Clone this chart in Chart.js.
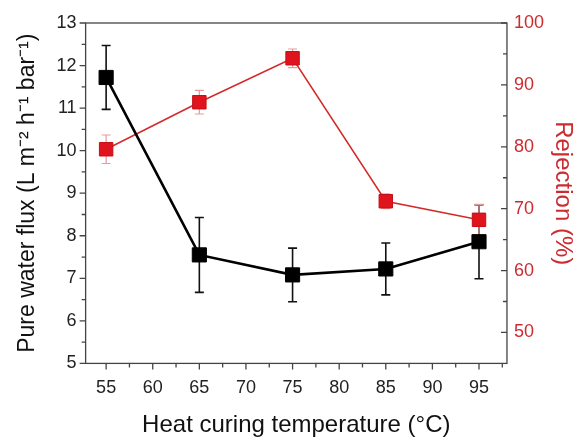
<!DOCTYPE html>
<html lang="en">
  <head>
    <meta charset="UTF-8" />
    <title>Flux and rejection vs heat curing temperature</title>
    <script src="https://cdn.jsdelivr.net/npm/chart.js@4.4.0/dist/chart.umd.min.js"></script>
    <style>
      body { margin: 0; background: #fff; }
    </style>
  </head>
  <body>
    <canvas id="myChart" width="575" height="437"></canvas>
    <script>
      // values
      const temps = [55, 65, 75, 85, 95];
      const flux = [11.72, 7.55, 7.08, 7.22, 7.86];
      const fluxErr = [0.75, 0.88, 0.63, 0.61, 0.87];
      const rejection = [79.6, 87.2, 94.3, 71.2, 68.2];
      const rejectionErr = [2.3, 1.9, 1.5, 1.2, 2.5];

      const xMajor = [55, 60, 65, 70, 75, 80, 85, 90, 95];
      const fluxMajor = [5, 6, 7, 8, 9, 10, 11, 12, 13];
      const rejMajor = [50, 60, 70, 80, 90, 100];

      const RED = '#e0141c';
      const RED_TEXT = '#cc2b30';
      const FONT = "'Liberation Sans', Arial, sans-serif";

      // minor + major tick values for each axis
      function tickList(from, to, step) {
        const out = [];
        for (let v = from; v <= to + 1e-9; v += step) out.push(+v.toFixed(2));
        return out;
      }
      const xTicks = tickList(55, 97.5, 2.5);
      const fluxTicks = tickList(5, 13, 0.5);
      const rejTicks = tickList(50, 100, 5);

      // error bars, drawn under the markers
      const errorBars = {
        id: 'errorBars',
        beforeDatasetsDraw(chart) {
          const ctx = chart.ctx;
          const xs = chart.scales.x;
          const sets = [
            { y: chart.scales.y, vals: flux, errs: fluxErr, color: '#111', w: 1.6 },
            { y: chart.scales.y1, vals: rejection, errs: rejectionErr, color: '#e89a9c', w: 1.2 }
          ];
          ctx.save();
          sets.forEach(s => {
            ctx.strokeStyle = s.color;
            ctx.lineWidth = s.w;
            temps.forEach((t, i) => {
              const px = xs.getPixelForValue(t);
              const top = s.y.getPixelForValue(s.vals[i] + s.errs[i]);
              const bot = s.y.getPixelForValue(s.vals[i] - s.errs[i]);
              ctx.beginPath();
              ctx.moveTo(px, top); ctx.lineTo(px, bot);
              ctx.moveTo(px - 4.5, top); ctx.lineTo(px + 4.5, top);
              ctx.moveTo(px - 4.5, bot); ctx.lineTo(px + 4.5, bot);
              ctx.stroke();
            });
          });
          ctx.restore();
        }
      };

      // frame with tick marks (right axis ticks point inward)
      const frame = {
        id: 'frame',
        afterDraw(chart) {
          const ctx = chart.ctx;
          const a = chart.chartArea;
          const xs = chart.scales.x, yl = chart.scales.y, yr = chart.scales.y1;
          ctx.save();
          ctx.strokeStyle = '#444';
          ctx.lineWidth = 1.3;
          ctx.strokeRect(a.left, a.top, a.right - a.left, a.bottom - a.top);
          ctx.beginPath();
          xTicks.forEach(v => {
            const p = xs.getPixelForValue(v);
            const len = xMajor.includes(v) ? 6 : 4;
            ctx.moveTo(p, a.bottom); ctx.lineTo(p, a.bottom + len);
          });
          fluxTicks.forEach(v => {
            const p = yl.getPixelForValue(v);
            const len = fluxMajor.includes(v) ? 6 : 4;
            ctx.moveTo(a.left, p); ctx.lineTo(a.left - len, p);
          });
          rejTicks.forEach(v => {
            const p = yr.getPixelForValue(v);
            const len = rejMajor.includes(v) ? 6 : 4;
            ctx.moveTo(a.right, p); ctx.lineTo(a.right - len, p);
          });
          ctx.stroke();
          ctx.restore();
        }
      };

      const noGrid = { display: false, drawTicks: false };
      const ctx = document.getElementById('myChart').getContext('2d');
      const myChart = new Chart(ctx, {
        type: 'line',
        data: {
          datasets: [{
            label: 'Pure water flux',
            data: temps.map((t, i) => ({ x: t, y: flux[i] })),
            yAxisID: 'y',
            borderColor: '#000',
            borderWidth: 2.6,
            pointStyle: 'rect',
            pointRadius: 10,
            pointBackgroundColor: '#000',
            pointBorderColor: '#000',
            pointBorderWidth: 1,
            order: 1
          }, {
            label: 'Rejection',
            data: temps.map((t, i) => ({ x: t, y: rejection[i] })),
            yAxisID: 'y1',
            borderColor: '#d42a2a',
            borderWidth: 1.5,
            pointStyle: 'rect',
            pointRadius: 9.5,
            pointBackgroundColor: RED,
            pointBorderColor: '#c41016',
            pointBorderWidth: 1,
            order: 2
          }]
        },
        options: {
          responsive: false,
          animation: false,
          layout: { padding: { top: 23, right: 0, left: 10, bottom: 0 } },
          plugins: { legend: { display: false }, tooltip: { enabled: false } },
          scales: {
            x: {
              type: 'linear',
              min: 52.8,
              max: 98,
              afterBuildTicks: s => { s.ticks = xMajor.map(v => ({ value: v })); },
              grid: noGrid,
              border: { display: false },
              ticks: { color: '#222', font: { family: FONT, size: 18 }, padding: 14, maxRotation: 0, autoSkip: false },
              title: { display: true, text: 'Heat curing temperature (°C)', color: '#111', font: { family: FONT, size: 24, lineHeight: 1 }, padding: { top: 0, bottom: 0 } }
            },
            y: {
              position: 'left',
              min: 5,
              max: 13,
              afterBuildTicks: s => { s.ticks = fluxMajor.map(v => ({ value: v })); },
              grid: noGrid,
              border: { display: false },
              ticks: { color: '#222', font: { family: FONT, size: 18 }, padding: 9 },
              title: { display: true, text: 'Pure water flux (L m\u207B\u00B2 h\u207B\u00B9 bar\u207B\u00B9)', color: '#111', font: { family: FONT, size: 23 }, padding: { top: 4, bottom: 6 } }
            },
            y1: {
              position: 'right',
              min: 45,
              max: 100,
              afterBuildTicks: s => { s.ticks = rejMajor.map(v => ({ value: v })); },
              grid: noGrid,
              border: { display: false },
              ticks: { color: RED_TEXT, font: { family: FONT, size: 18 }, padding: 7 },
              title: { display: true, text: 'Rejection (%)', color: RED_TEXT, font: { family: FONT, size: 24, lineHeight: 1 }, padding: { top: 0, bottom: 0 } }
            }
          }
        },
        plugins: [errorBars, frame]
      });
    </script>
  </body>
</html>
